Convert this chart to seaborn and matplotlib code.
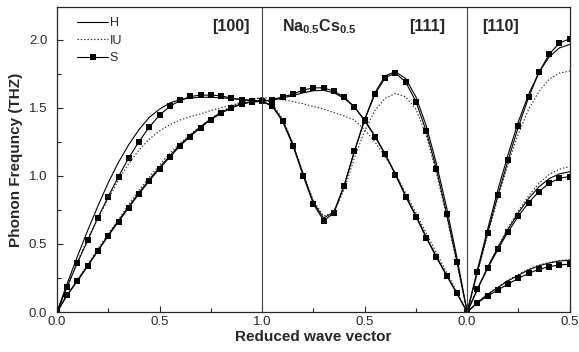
import numpy as np
import pandas as pd
import matplotlib
matplotlib.use("Agg")
import matplotlib.pyplot as plt
from matplotlib.ticker import MultipleLocator, FixedLocator
import seaborn as sns

# ---- data (unified x: [100] 0-1, [111] 1-2, [110] 2-2.5) ----
x_100 = [0.00, 0.05, 0.10, 0.15, 0.20, 0.25, 0.30, 0.35, 0.40, 0.45, 0.50,
         0.55, 0.60, 0.65, 0.70, 0.75, 0.80, 0.85, 0.90, 0.95, 1.00]
x_111 = [1.00, 1.05, 1.10, 1.15, 1.20, 1.25, 1.30, 1.35, 1.40, 1.45, 1.50,
         1.55, 1.60, 1.65, 1.70, 1.75, 1.80, 1.85, 1.90, 1.95, 2.00]
x_110 = [2.00, 2.05, 2.10, 2.15, 2.20, 2.25, 2.30, 2.35, 2.40, 2.45, 2.50]

# [100] longitudinal / transverse
S_100_L = [0, 0.186, 0.363, 0.527, 0.694, 0.848, 0.995, 1.132, 1.252, 1.358, 1.446,
           1.510, 1.554, 1.583, 1.593, 1.593, 1.588, 1.571, 1.560, 1.551, 1.547]
H_100_L = [0, 0.21, 0.41, 0.60, 0.78, 0.95, 1.10, 1.23, 1.34, 1.43, 1.49,
           1.535, 1.56, 1.572, 1.577, 1.577, 1.574, 1.568, 1.561, 1.555, 1.550]
IU_100_L = [0, 0.19, 0.37, 0.54, 0.69, 0.83, 0.97, 1.09, 1.19, 1.27, 1.33,
            1.375, 1.41, 1.435, 1.455, 1.48, 1.50, 1.52, 1.54, 1.56, 1.575]
S_100_T = [0, 0.125, 0.228, 0.338, 0.449, 0.559, 0.664, 0.767, 0.868, 0.963, 1.054,
           1.137, 1.221, 1.289, 1.355, 1.412, 1.461, 1.498, 1.527, 1.542, 1.547]
H_100_T = [0, 0.127, 0.232, 0.342, 0.454, 0.565, 0.671, 0.775, 0.876, 0.972, 1.063,
           1.146, 1.229, 1.297, 1.362, 1.418, 1.466, 1.502, 1.531, 1.546, 1.550]
IU_100_T = [0, 0.12, 0.235, 0.35, 0.465, 0.575, 0.68, 0.79, 0.895, 0.99, 1.08,
            1.165, 1.24, 1.305, 1.365, 1.42, 1.47, 1.51, 1.54, 1.562, 1.575]

# [111] two branches
S_111_A = [1.547, 1.559, 1.580, 1.600, 1.630, 1.646, 1.647, 1.622, 1.578, 1.508, 1.405,
           1.289, 1.157, 1.008, 0.848, 0.701, 0.546, 0.402, 0.265, 0.137, 0.0]
H_111_A = [1.550, 1.556, 1.572, 1.590, 1.610, 1.625, 1.628, 1.610, 1.570, 1.505, 1.410,
           1.293, 1.162, 1.015, 0.856, 0.708, 0.553, 0.408, 0.270, 0.138, 0.0]
IU_111_A = [1.575, 1.570, 1.560, 1.545, 1.530, 1.510, 1.490, 1.465, 1.440, 1.410, 1.340,
            1.250, 1.140, 1.020, 0.875, 0.730, 0.580, 0.435, 0.290, 0.147, 0.0]
S_111_B = [1.547, 1.510, 1.400, 1.223, 1.002, 0.794, 0.671, 0.726, 0.926, 1.179, 1.410,
           1.600, 1.720, 1.755, 1.690, 1.546, 1.330, 1.049, 0.720, 0.370, 0.0]
H_111_B = [1.550, 1.515, 1.410, 1.235, 1.015, 0.805, 0.690, 0.735, 0.930, 1.180, 1.415,
           1.610, 1.735, 1.765, 1.715, 1.580, 1.370, 1.090, 0.765, 0.400, 0.0]
IU_111_B = [1.575, 1.530, 1.420, 1.240, 1.020, 0.820, 0.705, 0.730, 0.900, 1.130, 1.330,
            1.480, 1.570, 1.605, 1.580, 1.490, 1.300, 1.020, 0.700, 0.355, 0.0]

# [110] three branches
S_110_L = [0, 0.296, 0.583, 0.860, 1.118, 1.363, 1.578, 1.760, 1.895, 1.975, 2.007]
H_110_L = [0, 0.31, 0.61, 0.90, 1.16, 1.40, 1.60, 1.76, 1.875, 1.94, 1.965]
IU_110_L = [0, 0.29, 0.57, 0.84, 1.09, 1.31, 1.49, 1.62, 1.71, 1.755, 1.77]
S_110_T1 = [0, 0.167, 0.321, 0.461, 0.590, 0.706, 0.804, 0.885, 0.946, 0.983, 0.995]
H_110_T1 = [0, 0.17, 0.33, 0.475, 0.61, 0.73, 0.835, 0.92, 0.98, 1.015, 1.03]
IU_110_T1 = [0, 0.17, 0.33, 0.48, 0.62, 0.745, 0.855, 0.945, 1.01, 1.05, 1.068]
S_110_T2 = [0, 0.068, 0.118, 0.162, 0.206, 0.248, 0.284, 0.314, 0.333, 0.346, 0.351]
H_110_T2 = [0, 0.07, 0.13, 0.18, 0.23, 0.27, 0.31, 0.34, 0.36, 0.375, 0.38]
IU_110_T2 = [0, 0.072, 0.133, 0.185, 0.235, 0.277, 0.315, 0.345, 0.365, 0.378, 0.385]

tick_pos = [0.0, 0.5, 1.0, 1.5, 2.0, 2.5]
tick_labels = ["0.0", "0.5", "1.0", "0.5", "0.0", "0.5"]

branches = {
    "H": [(x_100, H_100_L), (x_100, H_100_T), (x_111, H_111_A), (x_111, H_111_B),
          (x_110, H_110_L), (x_110, H_110_T1), (x_110, H_110_T2)],
    "IU": [(x_100, IU_100_L), (x_100, IU_100_T), (x_111, IU_111_A), (x_111, IU_111_B),
           (x_110, IU_110_L), (x_110, IU_110_T1), (x_110, IU_110_T2)],
    "S": [(x_100, S_100_L), (x_100, S_100_T), (x_111, S_111_A), (x_111, S_111_B),
          (x_110, S_110_L), (x_110, S_110_T1), (x_110, S_110_T2)],
}

sns.set_style("ticks")
plt.rcParams['font.family'] = ['Liberation Sans', 'DejaVu Sans']
plt.rcParams['mathtext.fontset'] = 'custom'
plt.rcParams['mathtext.rm'] = 'Liberation Sans:bold'

fig, ax = plt.subplots(figsize=(5.79, 3.52), dpi=100)
fig.subplots_adjust(left=0.0984, right=0.984, bottom=0.1136, top=0.980)

styles = {
    "H": dict(color="black", lw=0.8, linestyle="-"),
    "IU": dict(color="#222222", lw=0.8, linestyle=(0, (1.2, 1.8))),
    "S": dict(color="black", lw=0.8, linestyle="-", marker="s", markersize=4.2,
              markeredgewidth=0),
}

for name, lines in branches.items():
    for i, (xs, ys) in enumerate(lines):
        df = pd.DataFrame({"x": xs, "y": ys})
        sns.lineplot(data=df, x="x", y="y", ax=ax, sort=False, errorbar=None,
                     label=name if i == 0 else None, **styles[name])

ax.axvline(1.0, color="#444444", lw=0.8)
ax.axvline(2.0, color="#444444", lw=0.8)

ax.set_xlim(0, 2.5)
ax.set_ylim(0, 2.24)
ax.xaxis.set_major_locator(FixedLocator(tick_pos))
ax.set_xticklabels(tick_labels)
ax.xaxis.set_minor_locator(MultipleLocator(0.25))
ax.yaxis.set_major_locator(MultipleLocator(0.5))
ax.yaxis.set_minor_locator(MultipleLocator(0.25))
ax.yaxis.set_major_formatter(matplotlib.ticker.FormatStrFormatter("%.1f"))
ax.tick_params(which="both", direction="in", labelsize=9.5, top=False, right=False)
ax.tick_params(axis="y", which="major", length=4, width=0.8, pad=7)
ax.tick_params(axis="x", which="major", length=4, width=0.8, pad=3)
ax.tick_params(which="minor", length=3, width=0.8)
for sp in ax.spines.values():
    sp.set_linewidth(0.9)

ax.set_xlabel("Reduced wave vector", fontsize=11, fontweight="bold", labelpad=1)
ax.set_ylabel("Phonon Frequncy (THZ)", fontsize=11, fontweight="bold", labelpad=4)

ax.text(0.847, 2.095, "[100]", fontsize=11.5, fontweight="bold", ha="center", va="center")
ax.text(1.097, 2.095, r"$\mathrm{Na_{0.5}Cs_{0.5}}$", fontsize=11.5, ha="left", va="center")
ax.text(1.803, 2.095, "[111]", fontsize=11.5, fontweight="bold", ha="center", va="center")
ax.text(2.163, 2.095, "[110]", fontsize=11.5, fontweight="bold", ha="center", va="center")

ax.legend(loc="upper left", bbox_to_anchor=(0.02, 1.0), frameon=False, fontsize=9,
          handlelength=2.5, handletextpad=0.1, labelspacing=0.45, borderpad=0.3)

plt.savefig("out.png", dpi=100)
